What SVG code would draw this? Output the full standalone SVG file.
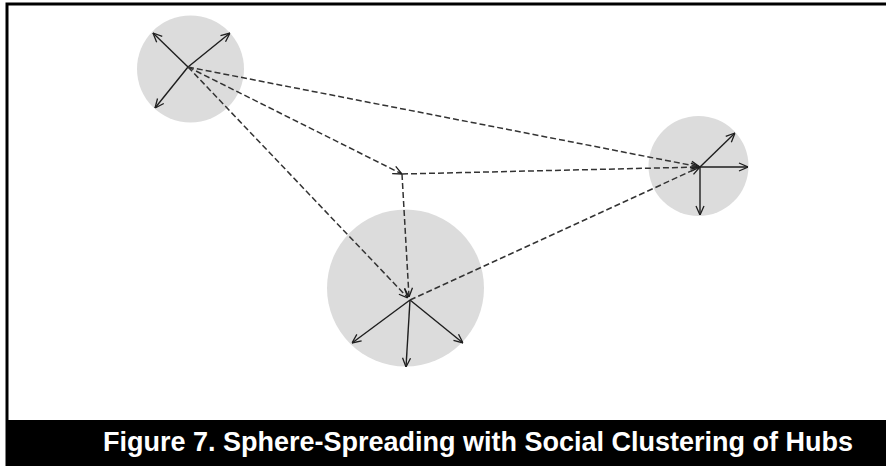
<svg xmlns="http://www.w3.org/2000/svg" width="886" height="466" viewBox="0 0 886 466">
<defs>
<style>
.hub{fill:#dcdcdc;stroke:none}
.solid{stroke:#1e1e1e;stroke-width:1.4;fill:none;marker-end:url(#open)}
.dash{stroke:#333;stroke-width:1.5;fill:none;stroke-dasharray:6 3;marker-end:url(#open)}
.cap{font-family:"Liberation Sans",Arial,sans-serif;font-weight:bold;font-size:27px;fill:#fff}
</style>
<marker id="open" viewBox="0 0 10 10" refX="10" refY="5" markerWidth="10" markerHeight="10" markerUnits="userSpaceOnUse" orient="auto">
<path d="M1,1 L10,5 L1,9" fill="none" stroke="#1e1e1e" stroke-width="1.3"/>
</marker>
</defs>
<rect width="886" height="466" fill="#fff"/>
<path d="M7,466 V4 H886" fill="none" stroke="#000" stroke-width="3"/>
<g id="hubA">
<circle class="hub" cx="190.5" cy="69" r="53.5"/>
<line class="solid" x1="188" y1="67" x2="153" y2="33"/>
<line class="solid" x1="188" y1="67" x2="230" y2="33"/>
<line class="solid" x1="188" y1="67" x2="155" y2="108"/>
</g>
<g id="hubB">
<circle class="hub" cx="698.5" cy="166" r="50"/>
<line class="solid" x1="700" y1="167" x2="735" y2="133"/>
<line class="solid" x1="700" y1="167" x2="748" y2="167"/>
<line class="solid" x1="700" y1="167" x2="700" y2="215"/>
</g>
<g id="hubC">
<circle class="hub" cx="405.5" cy="288" r="78.5"/>
<line class="solid" x1="410" y1="300" x2="352" y2="343"/>
<line class="solid" x1="410" y1="300" x2="406" y2="367"/>
<line class="solid" x1="410" y1="300" x2="463" y2="343"/>
</g>
<g id="connectors">
<line class="dash" x1="188" y1="67" x2="700" y2="167"/>
<line class="dash" x1="188" y1="67" x2="402" y2="174"/>
<line class="dash" x1="188" y1="67" x2="408" y2="298"/>
<line class="dash" x1="402" y1="174" x2="700" y2="167"/>
<line class="dash" x1="402" y1="174" x2="409" y2="297"/>
<line class="dash" x1="410" y1="300" x2="700" y2="167"/>
</g>
<g id="caption">
<rect x="6" y="420" width="880" height="46" fill="#000"/>
<text class="cap" x="478" y="451" text-anchor="middle">Figure 7. Sphere-Spreading with Social Clustering of Hubs</text>
</g>
</svg>
